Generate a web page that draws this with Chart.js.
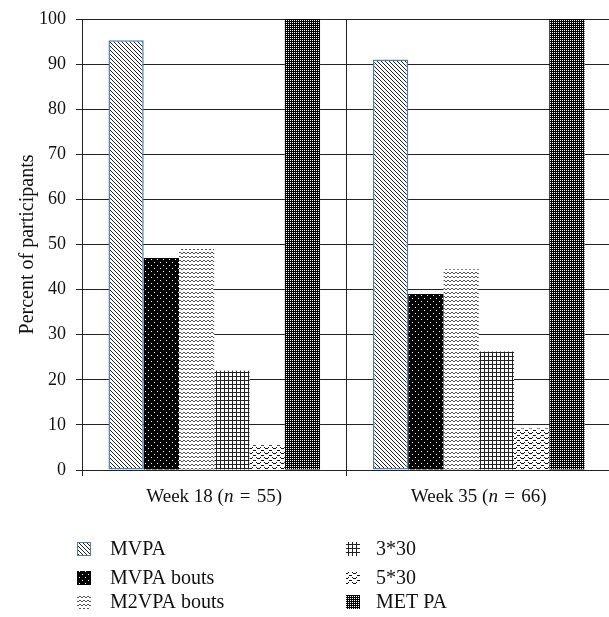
<!DOCTYPE html>
<html>
<head>
<meta charset="utf-8">
<script src="https://cdn.jsdelivr.net/npm/chart.js@4.4.1/dist/chart.umd.min.js"></script>
<style>
  html, body { margin: 0; padding: 0; background: #fff; overflow: hidden; }
  #wrap { position: relative; width: 612px; height: 617px; }
</style>
</head>
<body>
<div id="wrap"><canvas id="percent" width="612" height="617"></canvas></div>
<script>
var weeks = ['Week 18', 'Week 35'];
var sampleSizes = [55, 66];
var seriesNames = ['MVPA', 'MVPA bouts', 'M2VPA bouts', '3*30', '5*30', 'MET PA'];
var mvpa = [95.3, 91];
var mvpaBouts = [47, 39];
var m2vpaBouts = [49, 44.5];
var threeBy30 = [22, 26.3];
var fiveBy30 = [5.5, 9.2];
var metPa = [100, 100];
var yTicks = [0, 10, 20, 30, 40, 50, 60, 70, 80, 90, 100];

// small tiles for the hatch fills
function tile(w, h, bg, draw) {
    var c = document.createElement('canvas');
    c.width = w; c.height = h;
    var g = c.getContext('2d');
    g.fillStyle = bg;
    g.fillRect(0, 0, w, h);
    draw(g);
    return c;
}
var tiles = [
    tile(4, 4, '#fff', function (g) { g.fillStyle = '#222'; for (var i = 0; i < 4; i++) g.fillRect(i, i, 1, 1); }),
    tile(6, 6, '#000', function (g) { g.fillStyle = '#fff'; g.fillRect(1, 1, 1, 1); g.fillRect(4, 4, 1, 1); }),
    tile(4, 4, '#fff', function (g) { g.fillStyle = '#555'; g.fillRect(0, 0, 1, 1); g.fillRect(1, 1, 2, 1); g.fillRect(3, 0, 1, 1); }),
    tile(4, 4, '#fff', function (g) { g.fillStyle = '#222'; g.fillRect(0, 0, 4, 1); g.fillRect(0, 0, 1, 4); }),
    tile(8, 5, '#fff', function (g) {
        g.fillStyle = '#111';
        for (var x = 0; x < 8; x++) {
            var y = Math.round(1.5 + 1.5 * Math.sin(2 * Math.PI * x / 8));
            g.fillRect(x, y, 1, 1);
        }
    }),
    tile(2, 2, '#000', function (g) { g.fillStyle = '#fff'; g.fillRect(0, 0, 1, 1); })
];

var canvas = document.getElementById('percent');
var ctx = canvas.getContext('2d');
var fills = tiles.map(function (t) { return ctx.createPattern(t, 'repeat'); });
var values = [mvpa, mvpaBouts, m2vpaBouts, threeBy30, fiveBy30, metPa];

var datasets = seriesNames.map(function (name, i) {
    return {
        label: name,
        data: values[i],
        backgroundColor: fills[i],
        borderColor: i === 0 ? '#4a7ebb' : 'rgba(0,0,0,0)',
        borderWidth: i === 0 ? 1.5 : 0,
        borderSkipped: false,
        barPercentage: 1,
        categoryPercentage: 0.8
    };
});

// x labels with italic n
var weekLabels = {
    id: 'weekLabels',
    afterDraw: function (chart) {
        var c = chart.ctx;
        var xs = chart.scales.x;
        c.save();
        c.fillStyle = '#111';
        c.textBaseline = 'middle';
        weeks.forEach(function (w, i) {
            var parts = [
                [w + ' (', '19px "Liberation Serif"'],
                ['n', 'italic 19px "Liberation Serif"'],
                ['\u2004=\u2004' + sampleSizes[i] + ')', '19px "Liberation Serif"']
            ];
            var total = 0;
            parts.forEach(function (p) { c.font = p[1]; total += c.measureText(p[0]).width; });
            var x = xs.getPixelForValue(i) - total / 2;
            parts.forEach(function (p) {
                c.font = p[1];
                c.fillText(p[0], x, 497);
                x += c.measureText(p[0]).width;
            });
        });
        c.restore();
    }
};

// two-column legend under the axis
var legendSpots = [[77, 549], [77, 578], [77, 602], [346, 549], [346, 578], [346, 602]];
var boxLegend = {
    id: 'boxLegend',
    afterDraw: function (chart) {
        var c = chart.ctx;
        c.save();
        c.font = '20px "Liberation Serif"';
        c.textBaseline = 'middle';
        chart.data.datasets.forEach(function (ds, i) {
            var x = legendSpots[i][0], y = legendSpots[i][1];
            c.fillStyle = ds.backgroundColor;
            c.fillRect(x, y - 7, 14, 14);
            if (i === 0) {
                c.strokeStyle = ds.borderColor;
                c.lineWidth = 1;
                c.strokeRect(x + 0.5, y - 6.5, 13, 13);
            }
            c.fillStyle = '#111';
            c.fillText(ds.label, x + (i < 3 ? 33 : 30), y + 1);
        });
        c.restore();
    }
};

new Chart(canvas, {
    type: 'bar',
    data: { labels: weeks, datasets: datasets },
    plugins: [weekLabels, boxLegend],
    options: {
        responsive: false,
        animation: false,
        devicePixelRatio: 1,
        layout: { padding: { top: 11, right: 1, left: 0, bottom: 97 } },
        plugins: { legend: { display: false }, tooltip: { enabled: false } },
        scales: {
            x: {
                grid: { offset: true, color: '#222', lineWidth: 1, tickLength: 6 },
                border: { color: '#222' },
                ticks: { display: false },
                afterFit: function (s) { s.height = 50; }
            },
            y: {
                min: 0,
                max: 100,
                afterBuildTicks: function (s) { s.ticks = yTicks.map(function (v) { return { value: v }; }); },
                grid: { color: '#222', lineWidth: 1, tickLength: 6 },
                border: { color: '#222' },
                ticks: { color: '#111', padding: 10, font: { family: 'Liberation Serif', size: 18, lineHeight: 1 } },
                title: {
                    display: true,
                    text: 'Percent of participants',
                    color: '#111',
                    padding: { top: 16, bottom: 0 },
                    font: { family: 'Liberation Serif', size: 20 }
                },
                afterFit: function (s) { s.width = 82; }
            }
        }
    }
});
</script>
</body>
</html>
